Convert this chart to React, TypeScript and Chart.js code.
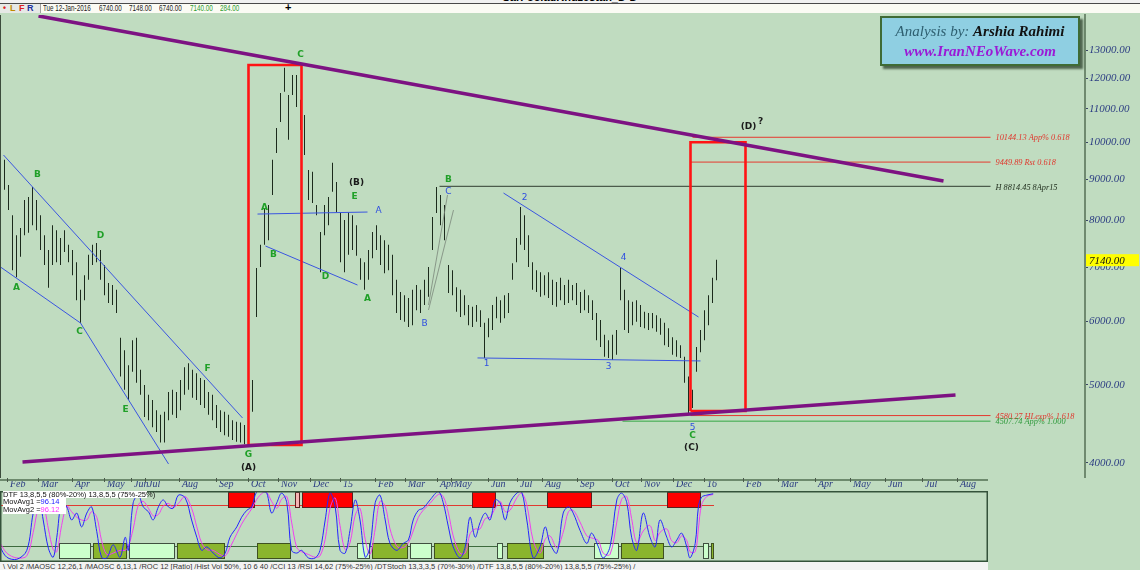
import React, { useEffect, useRef } from 'react';
import { Chart, registerables } from 'chart.js';

Chart.register(...registerables);

// ---------- price bars (one bar per slot, high / low) ----------
const barHigh = [
  9780, 9510, 8850, 8120, 7670, 7830, 8480, 8550, 8800, 8480,
  8120, 7670, 7350, 7890, 7780, 7610, 7780, 7460, 7350, 7100,
  6560, 6840, 7250, 7460, 7500, 7350, 7040, 6690, 6650, 6560,
  5720, 5520, 5290, 5680, 5720, 5220, 5000, 4860, 4790, 4650,
  4590, 4630, 4900, 4930, 4900, 5070, 5260, 5320, 5220, 5170,
  5100, 5070, 4900, 4860, 4720, 4650, 4630, 4590, 4520, 4500,
  4490, 4460, 4520, 5070, 6980, 7460, 8290, 8360, 9510, 10420,
  11510, 12370, 11450, 12120, 12120, 11290, 10810, 9240, 9190, 8360,
  7740, 8360, 8550, 9430, 8930, 8190, 8010, 8190, 8120, 7890,
  7180, 7100, 7350, 7740, 7890, 7670, 7560, 7460, 7250, 6750,
  6520, 6460, 6410, 6560, 6650, 6560, 6750, 7000, 8080, 8800,
  8600, 8360, 7040, 6940, 6610, 6560, 6460, 6280, 6250, 6280,
  6190, 5970, 6050, 6280, 6430, 6370, 6460, 6500, 7080, 7610,
  8310, 8120, 7670, 7100, 6940, 6900, 6840, 6900, 6750, 6710,
  6790, 6650, 6750, 6650, 6690, 6520, 6560, 6460, 6370, 6140,
  6020, 5770, 5680, 5770, 5850, 6980, 6560, 6370, 6340, 6370,
  6280, 6160, 6140, 6140, 6100, 6050, 5970, 5880, 5730, 5680,
  5600, 5420, 5120, 4930, 5570, 5850, 6190, 6460, 6790, 7148,
];
const barLow = [
  9110, 8730, 8240, 6940, 6800, 7210, 7670, 7720, 7890, 7780,
  7350, 7040, 6600, 7040, 7100, 7040, 7310, 7100, 6840, 6370,
  5970, 6370, 6750, 7040, 7100, 6750, 6460, 6320, 6280, 6140,
  5120, 4930, 4790, 5190, 5030, 4860, 4560, 4520, 4430, 4370,
  4240, 4240, 4520, 4590, 4550, 4650, 4860, 4930, 4820, 4790,
  4720, 4680, 4590, 4520, 4420, 4370, 4330, 4310, 4270, 4250,
  4240, 4220, 4270, 4630, 6070, 7000, 7460, 7560, 8600, 9700,
  10600, 11550, 10070, 11450, 11060, 10360, 9640, 8480, 8410, 8120,
  6900, 7670, 7890, 8680, 8190, 7100, 6900, 7250, 7350, 7230,
  6750, 6560, 6750, 7180, 7350, 7040, 6880, 6940, 6460, 6140,
  6020, 5990, 5900, 5930, 6190, 6140, 6280, 6430, 7350, 8170,
  7890, 7560, 6500, 6460, 6160, 6070, 6100, 5930, 5900, 5990,
  5900, 5400, 5730, 5850, 6050, 5970, 6050, 6140, 6750, 7100,
  7460, 7350, 7000, 6560, 6520, 6430, 6460, 6410, 6280, 6250,
  6370, 6280, 6320, 6370, 6280, 6140, 6190, 6140, 6020, 5680,
  5570, 5420, 5400, 5370, 5450, 6370, 5850, 5800, 5930, 5990,
  5900, 5880, 5850, 5880, 5820, 5770, 5600, 5570, 5450, 5420,
  5400, 5030, 4610, 4680, 5190, 5490, 5680, 5930, 6320, 6740,
];
const lastClose = 7140;

// ---------- axes ----------
const priceTicks = [4000, 5000, 6000, 7000, 8000, 9000, 10000, 11000, 12000, 13000];
const priceMin = 3832;
const priceMax = 14386;
const mainIdxMin = -0.125;
const mainIdxMax = 271.125;
const oscIdxMax = 247;
const monthTickIdx = [2.5, 10.25, 18.75, 26.75, 33.5, 37, 45.5, 54.75, 62.75, 70.25, 78.25, 85.75,
  94.5, 102, 110, 113.5, 122.75, 130, 136.25, 145, 153.75, 161, 169, 176.75,
  186.5, 195.25, 204.5, 213.25, 222, 231.25, 240];
const monthLabels = ['Feb', 'Mar', 'Apr', 'May', 'Jun', 'Jul', 'Aug', 'Sep', 'Oct', 'Nov', 'Dec', '15',
  'Feb', 'Mar', 'Apr', 'May', 'Jun', 'Jul', 'Aug', 'Sep', 'Oct', 'Nov', 'Dec', '16',
  'Feb', 'Mar', 'Apr', 'May', 'Jun', 'Jul', 'Aug'];

// ---------- drawing objects (time index, price) ----------
const upperTrendIdx = [9.5, 235.75];
const upperTrendPrice = [14347, 8953];
const lowerTrendIdx = [5.5, 238.75];
const lowerTrendPrice = [4011, 4858];

const boxStartIdx = [62, 172.5];
const boxEndIdx = [75.25, 186.25];
const boxLowPrice = [4211, 4641];
const boxHighPrice = [12471, 10000];

const levelValues = [10144.13, 9449.89, 8814.45, 4580.27, 4507.74];
const levelStartIdx = [173, 172.5, 109.75, 172.5, 155.5];
const levelEndIdx = 247.5;
const levelTexts = ['10144.13 App% 0.618', '9449.89 Rst 0.618', 'H 8814.45 8Apr15', '4580.27 HLexp% 1.618', '4507.74 App% 1.000'];
const levelKinds = ['red', 'red', 'gray', 'red', 'green'];

const blueLineIdx = [[0.75, 60.5], [0, 20, 42], [66.25, 89.25], [64.25, 91.75], [119.25, 175], [125.75, 174.5]];
const blueLinePrice = [[9643, 4549], [7002, 5967, 3989], [7435, 6651], [8146, 8193], [5400, 5354], [8650, 6070]];
const grayLineIdx = [[107, 111.75], [107, 113.25]];
const grayLinePrice = [[6282, 8601], [6193, 8240]];

const waveText = ['A', 'B', 'C', 'D', 'E', 'F', 'G', 'A', 'B', 'C', 'D', 'E', 'A', 'B', 'C',
  'A', 'B', 'C', '1', '2', '3', '4', '5', '(A)', '(B)', '(C)', '(D)', '?'];
const waveIdx = [4, 9.25, 19.75, 25, 31.25, 51.75, 62, 66, 68.25, 75, 81.25, 88.5, 91.75, 112, 173,
  94.5, 106, 112, 121.5, 131, 152, 155.75, 173, 62, 89, 172.75, 187, 190];
const wavePrice = [6595, 9107, 5816, 7650, 4654, 5233, 4092, 8288, 7246, 12833, 6803, 8552, 6390, 9000, 4321,
  8217, 5950, 8675, 5308, 8527, 5263, 7184, 4421, 3944, 8902, 4174, 10447, 10597];
const waveKind = ['g', 'g', 'g', 'g', 'g', 'g', 'g', 'g', 'g', 'g', 'g', 'g', 'g', 'g', 'g',
  'b', 'b', 'b', 'b', 'b', 'b', 'b', 'b', 'k', 'k', 'k', 'k', 'k'];

// ---------- DTF oscillator ----------
const oscIdx = [0, 1.7, 4.2, 6.7, 8.3, 9.6, 10.8, 12.1, 13.3, 14.2, 15.4, 16.7, 17.9, 19.2, 20.4, 21.7, 22.9, 24.2, 25.4, 26.7,
  28.3, 30, 31.3, 32.1, 33.3, 34.6, 35.8, 37.1, 38.3, 39.6, 40.8, 42.1, 43.3, 44.6, 46.3, 47.9, 49.2, 50.4, 51.7, 53.3,
  55, 56.3, 57.5, 59.2, 60.4, 61.7, 62.9, 64.2, 65.8, 66.7, 67.9, 69.2, 70.4, 71.7, 72.9, 74.2, 75.4, 77.1, 78.8, 80,
  81.3, 82.5, 83.8, 85, 86.3, 87.5, 88.8, 90, 91.3, 92.5, 93.8, 95,
  96.3, 97.5, 99.2, 100.8, 102.1, 103.3, 104.6, 105.8, 107.5, 109.6, 110.8, 112.1, 113.3, 115, 116.3,
  117.5, 118.8, 120, 121.3, 122.5, 123.8, 125, 126.3, 127.5, 129.2, 130.4, 131.7, 133.3, 135, 136.3,
  137.5, 139.2, 140.8, 142.1, 143.3, 145, 146.7, 147.9, 149.6, 150.8, 152.5, 154.2, 155.4, 156.7, 157.9,
  159.2, 160.8, 162.5, 163.8, 165, 166.7, 167.9, 169.2, 170.4, 171.7, 172.5, 173.8, 174.6, 175.4, 176.7, 178.3];
const oscBlue = [19, 4, 1, 14, 68, 94, 58, 17, 4, 33, 83, 77, 58, 68, 48, 68, 77, 41, 4, 3,
  22, 4, 33, 14, 83, 94, 77, 70, 58, 77, 87, 77, 75, 94, 90, 58, 33, 14, 19, 10,
  3, 10, 33, 48, 62, 72, 77, 99, 99, 97, 68, 83, 97, 83, 14, 10, 14, 3, 3, 14,
  58, 97, 77, 14, 10, 43, 87, 58, 4, 19, 83, 94,
  58, 24, 14, 24, 29, 58, 72, 75, 87, 99, 83, 48, 19, 3, 19,
  62, 33, 54, 68, 58, 87, 83, 58, 83, 97, 99, 58, 3, 19, 48,
  24, 10, 68, 77, 68, 43, 24, 39, 19, 3, 19, 87, 97, 83, 33,
  14, 68, 33, 19, 58, 33, 19, 29, 39, 19, 3, 24, 77, 91, 94, 96];
const oscMagenta = [25, 10, 3, 6, 40, 75, 80, 45, 15, 12, 50, 78, 70, 62, 58, 58, 70, 62, 28, 8,
  10, 14, 14, 20, 45, 80, 85, 75, 64, 66, 78, 82, 76, 82, 92, 75, 48, 25, 15, 14,
  8, 6, 18, 38, 52, 64, 74, 88, 98, 98, 85, 75, 88, 92, 55, 18, 12, 8, 4, 6,
  30, 75, 90, 50, 15, 25, 65, 75, 30, 8, 45, 85,
  78, 45, 20, 18, 25, 42, 62, 72, 82, 95, 92, 68, 35, 10, 10,
  38, 45, 45, 60, 62, 75, 85, 70, 72, 90, 97, 80, 28, 10, 30,
  35, 18, 40, 70, 72, 55, 35, 32, 28, 10, 8, 55, 88, 92, 60,
  25, 42, 50, 28, 40, 45, 28, 25, 35, 28, 12, 12, 45, 80, 92, 95];
const oscUpperLevel = 80;
const oscLowerLevel = 20;
const oscLevelEndIdx = 178.5;
const obBoxStart = [57, 73.75, 75.5, 118, 136.75, 166.75];
const obBoxEnd = [63.75, 75, 88.25, 124, 148, 175.25];
const obBoxPale = [false, true, false, false, false, false];
const osLightStart = [14.75, 32.25, 89.25, 102.5, 124.25, 148.5, 175.75];
const osLightEnd = [22.75, 43.75, 92.5, 108, 125.75, 154.75, 177.25];
const osDarkStart = [23.25, 44.25, 64.25, 93, 108.5, 126.75, 155.25, 177.75];
const osDarkEnd = [31.75, 56.25, 72.75, 102, 117.25, 136, 166, 178.5];
const obBand = [75, 98];
const osBand = [1, 25];

const serif = '"Liberation Serif", "DejaVu Serif", serif';
const sans = '"Liberation Sans", "DejaVu Sans", sans-serif';

const pts = (xs: number[], ys: number[]) => xs.map((x, k) => ({ x, y: ys[k] }));

const levelStyle: any = {
  red: { color: '#e5392e', width: 1, text: '#e0362c' },
  gray: { color: '#4c5c4c', width: 1.3, text: '#22301f' },
  green: { color: '#35a845', width: 1, text: '#2f9a3c' },
};
const waveStyle: any = {
  g: { color: '#20a028', font: `bold 9px "DejaVu Sans", sans-serif` },
  b: { color: '#2f4fe0', font: `9px "DejaVu Sans", sans-serif` },
  k: { color: '#1a1a1a', font: `bold 9px "DejaVu Sans", sans-serif` },
};

const mainDecor = {
  id: 'mainDecor',
  afterDraw(chart: any) {
    const { ctx, scales } = chart;
    const x = scales.x;
    const y = scales.y;
    ctx.save();
    // level captions
    ctx.font = `italic 8.3px ${serif}`;
    ctx.textAlign = 'left';
    ctx.textBaseline = 'middle';
    levelValues.forEach((v, k) => {
      ctx.fillStyle = levelStyle[levelKinds[k]].text;
      ctx.fillText(levelTexts[k], x.getPixelForValue(levelEndIdx) + 5, y.getPixelForValue(v) + 1);
    });
    // wave labels
    ctx.textAlign = 'center';
    waveText.forEach((t, k) => {
      const st = waveStyle[waveKind[k]];
      ctx.font = st.font;
      ctx.fillStyle = st.color;
      ctx.fillText(t, x.getPixelForValue(waveIdx[k]), y.getPixelForValue(wavePrice[k]));
    });
    // last price tag
    const py = y.getPixelForValue(lastClose);
    ctx.fillStyle = '#ffff00';
    ctx.fillRect(chart.chartArea.right + 1, py - 6, 53, 12);
    ctx.fillStyle = '#111';
    ctx.font = `italic 11px ${serif}`;
    ctx.textAlign = 'left';
    ctx.fillText(lastClose.toFixed(2), chart.chartArea.right + 4, py + 0.5);
    // left border
    ctx.fillStyle = '#3c4c3c';
    ctx.fillRect(0, chart.chartArea.top, 1, chart.chartArea.bottom - chart.chartArea.top);
    ctx.restore();
  },
};

const oscDecor = {
  id: 'oscDecor',
  beforeDatasetsDraw(chart: any) {
    const { ctx, scales } = chart;
    const x = scales.x;
    const y = scales.y;
    ctx.save();
    const x0 = x.getPixelForValue(0);
    const x1 = x.getPixelForValue(oscLevelEndIdx);
    ctx.lineWidth = 1;
    ctx.strokeStyle = '#e03a30';
    let yy = Math.round(y.getPixelForValue(oscUpperLevel)) + 0.5;
    ctx.beginPath(); ctx.moveTo(x0, yy); ctx.lineTo(x1, yy); ctx.stroke();
    ctx.strokeStyle = '#3d6a3d';
    yy = Math.round(y.getPixelForValue(oscLowerLevel)) + 0.5;
    ctx.beginPath(); ctx.moveTo(x0, yy); ctx.lineTo(x1, yy); ctx.stroke();
    const box = (s: number, e: number, band: number[], fill: string, stroke: string) => {
      const a = Math.round(x.getPixelForValue(s));
      const b = Math.round(x.getPixelForValue(e));
      const top = Math.round(y.getPixelForValue(band[1]));
      const bot = Math.round(y.getPixelForValue(band[0]));
      ctx.fillStyle = fill;
      ctx.fillRect(a, top, b - a, bot - top);
      ctx.strokeStyle = stroke;
      ctx.lineWidth = 1;
      ctx.strokeRect(a + 0.5, top + 0.5, b - a - 1, bot - top - 1);
    };
    obBoxStart.forEach((s, k) => box(s, obBoxEnd[k], obBand, obBoxPale[k] ? '#f7b4b4' : '#ff0000', '#5a2020'));
    osLightStart.forEach((s, k) => box(s, osLightEnd[k], osBand, '#ccffcc', '#3f4f3f'));
    osDarkStart.forEach((s, k) => box(s, osDarkEnd[k], osBand, '#8ab52d', '#3f5020'));
    ctx.restore();
  },
  afterDraw(chart: any) {
    const { ctx, chartArea, scales } = chart;
    const x = scales.x;
    ctx.save();
    ctx.strokeStyle = '#6d8a6d';
    ctx.lineWidth = 2;
    ctx.beginPath(); ctx.moveTo(0, 2); ctx.lineTo(chartArea.right, 2); ctx.stroke();
    ctx.lineWidth = 1;
    ctx.strokeStyle = '#4a5a4a';
    monthTickIdx.forEach((v) => {
      const px = Math.round(x.getPixelForValue(v)) - 2.5;
      ctx.beginPath(); ctx.moveTo(px, 0); ctx.lineTo(px, 4); ctx.stroke();
    });
    ctx.strokeStyle = '#34523a';
    ctx.lineWidth = 1.5;
    ctx.strokeRect(chartArea.left + 0.75, chartArea.top + 0.75, chartArea.right - chartArea.left - 1.5, chartArea.bottom - chartArea.top + 0.5);
    ctx.restore();
  },
};

export default function App() {
  const mainRef = useRef<HTMLCanvasElement>(null);
  const oscRef = useRef<HTMLCanvasElement>(null);

  useEffect(() => {
    document.body.style.margin = '0';
    const datasets: any[] = [];
    datasets.push({
      type: 'line', data: pts(upperTrendIdx, upperTrendPrice), borderColor: '#7d1282', borderWidth: 3.5,
      pointRadius: 0, order: 0,
    });
    datasets.push({
      type: 'line', data: pts(lowerTrendIdx, lowerTrendPrice), borderColor: '#7d1282', borderWidth: 3.5,
      pointRadius: 0, order: 0,
    });
    boxStartIdx.forEach((s, k) => {
      const e = boxEndIdx[k];
      const lo = boxLowPrice[k];
      const hi = boxHighPrice[k];
      datasets.push({
        type: 'line',
        data: [{ x: s, y: lo }, { x: s, y: hi }, { x: e, y: hi }, { x: e, y: lo }, { x: s, y: lo }],
        borderColor: '#ff1414', borderWidth: 2.6, borderJoinStyle: 'miter', pointRadius: 0, order: 1,
      });
    });
    levelValues.forEach((v, k) => {
      const st = levelStyle[levelKinds[k]];
      datasets.push({
        type: 'line', data: [{ x: levelStartIdx[k], y: v }, { x: levelEndIdx, y: v }],
        borderColor: st.color, borderWidth: st.width, pointRadius: 0, order: 2,
      });
    });
    blueLineIdx.forEach((xs, k) => {
      datasets.push({
        type: 'line', data: pts(xs, blueLinePrice[k]), borderColor: '#3a55e0', borderWidth: 1,
        pointRadius: 0, order: 3,
      });
    });
    grayLineIdx.forEach((xs, k) => {
      datasets.push({
        type: 'line', data: pts(xs, grayLinePrice[k]), borderColor: '#7a867a', borderWidth: 0.8,
        pointRadius: 0, order: 3,
      });
    });
    datasets.push({
      type: 'bar',
      data: barHigh.map((h, i) => ({ x: i, y: [barLow[i], h] })),
      backgroundColor: '#1c2a1c', borderWidth: 0, barThickness: 1, inflateAmount: 0, grouped: false, order: 10,
    });

    const main = new Chart(mainRef.current as HTMLCanvasElement, {
      type: 'bar',
      data: { datasets },
      options: {
        animation: false,
        responsive: false,
        maintainAspectRatio: false,
        layout: { padding: { top: 15, left: 0, right: 0, bottom: 0 } },
        plugins: { legend: { display: false }, tooltip: { enabled: false } },
        scales: {
          x: { type: 'linear', min: mainIdxMin, max: mainIdxMax, display: false, offset: false },
          y: {
            type: 'logarithmic', position: 'right', min: priceMin, max: priceMax,
            afterBuildTicks: (s: any) => { s.ticks = priceTicks.map((v) => ({ value: v })); },
            afterFit: (s: any) => { s.width = 55; s.paddingTop = 0; s.paddingBottom = 0; },
            ticks: {
              autoSkip: false, padding: 1, color: '#2b3c82',
              font: { family: serif, style: 'italic', size: 11 },
              callback: (v: any) => Number(v).toFixed(2),
            },
            grid: { drawOnChartArea: false, tickLength: 3, color: '#3c4866' },
            border: { display: true, color: '#6f8a6f', width: 2 },
          },
        },
      } as any,
      plugins: [mainDecor],
    });

    const osc = new Chart(oscRef.current as HTMLCanvasElement, {
      type: 'line',
      data: {
        datasets: [
          {
            data: pts(oscIdx, oscBlue), borderColor: '#2424ff', borderWidth: 1, pointRadius: 0,
            tension: 0.35, order: 0,
          },
          {
            data: pts(oscIdx, oscMagenta), borderColor: '#f040f0', borderWidth: 1, pointRadius: 0,
            tension: 0.35, order: 1,
          },
        ],
      },
      options: {
        animation: false,
        responsive: false,
        maintainAspectRatio: false,
        layout: { padding: { top: 0, left: 0, right: 0, bottom: 2 } },
        plugins: { legend: { display: false }, tooltip: { enabled: false } },
        scales: {
          x: {
            type: 'linear', position: 'top', min: 0, max: oscIdxMax, offset: false,
            afterBuildTicks: (s: any) => { s.ticks = monthTickIdx.map((v) => ({ value: v })); },
            afterFit: (s: any) => { s.height = 13; s.paddingLeft = 0; s.paddingRight = 0; },
            ticks: {
              autoSkip: false, maxRotation: 0, minRotation: 0, align: 'start', padding: 1,
              color: '#2b3c82', font: { family: serif, style: 'italic', size: 10 },
              callback: (_v: any, i: number) => monthLabels[i],
            },
            grid: { display: false, drawTicks: false },
            border: { display: false },
          },
          y: { min: 0, max: 100, display: false },
        },
      } as any,
      plugins: [oscDecor],
    });

    return () => { main.destroy(); osc.destroy(); };
  }, []);

  const abs = (l: number, t: number, extra: any = {}) => ({ position: 'absolute', left: l, top: t, ...extra } as any);
  const tb = (l: number, extra: any = {}) => abs(l, 0, { transform: 'scaleX(0.74)', transformOrigin: 'left top', ...extra });

  return (
    <div style={{ position: 'fixed', left: 0, top: 0, width: 1140, height: 570, background: '#c0dcc0', overflow: 'hidden' }}>
      <canvas ref={mainRef} width={1140} height={478} style={abs(0, 0)} />
      <canvas ref={oscRef} width={988} height={84} style={abs(0, 478)} />

      {/* title + toolbar */}
      <div style={abs(0, 0, { width: 1140, height: 3, background: '#f1f1f1', overflow: 'hidden' })}>
        <div style={abs(0, -9, { width: 1140, textAlign: 'center', font: `bold 11px ${sans}`, color: '#000' })}>SarFooladKhuzestan_D-D</div>
      </div>
      <div style={abs(0, 3, { width: 1140, height: 1, background: '#4a4a4a' })} />
      <div style={abs(0, 4, { width: 1140, height: 9, background: '#e6e9e6', font: `8.5px ${sans}`, lineHeight: '9px', whiteSpace: 'nowrap', color: '#222' })}>
        <div style={abs(40, 0, { width: 1100, height: 9, background: '#fbfbf4', borderLeft: '1px solid #a0a0a0' })} />
        <span style={abs(3, 0, { color: '#e02020', fontWeight: 'bold' })}>•</span>
        <span style={abs(10, 0, { color: '#c08a00', fontWeight: 'bold', fontSize: 9 })}>L</span>
        <span style={abs(19, 0, { color: '#dd2020', fontWeight: 'bold', fontSize: 9 })}>F</span>
        <span style={abs(27, 0, { color: '#2030a0', fontWeight: 'bold', fontSize: 9 })}>R</span>
        <span style={tb(43)}>Tue 12-Jan-2016</span>
        <span style={tb(99)}>6740.00</span>
        <span style={tb(129)}>7148.00</span>
        <span style={tb(159)}>6740.00</span>
        <span style={tb(190, { color: '#2e9e2e' })}>7140.00</span>
        <span style={tb(220, { color: '#2e9e2e' })}>284.00</span>
        <span style={abs(285, -1, { fontWeight: 'bold', fontSize: 11, color: '#000' })}>+</span>
      </div>

      {/* analyst box */}
      <div style={abs(880, 16, {
        width: 196, height: 46, background: '#8fcfe2', border: '2px solid #3f6b35',
        boxShadow: '3px 3px 2px rgba(40,60,40,0.75)', textAlign: 'center', fontFamily: serif, fontStyle: 'italic',
      })}>
        <div style={{ fontSize: 15, lineHeight: '20px', marginTop: 3, whiteSpace: 'nowrap' }}>
          <span style={{ color: '#2e5f70' }}>Analysis by: </span>
          <span style={{ color: '#111', fontWeight: 'bold' }}>Arshia Rahimi</span>
        </div>
        <div style={{ fontSize: 15, lineHeight: '20px', color: '#9b19d6', fontWeight: 'bold', whiteSpace: 'nowrap' }}>www.IranNEoWave.com</div>
      </div>

      {/* oscillator header */}
      <div style={abs(3, 491, { width: 144, height: 7, background: '#fff', font: `7.5px ${sans}`, lineHeight: '7px', whiteSpace: 'nowrap', color: '#111' })}>
        DTF 13,8,5,5 (80%-20%) 13,8,5,5 (75%-25%)
      </div>
      <div style={abs(3, 498, { width: 63, height: 16, background: '#fff', font: `7.5px ${sans}`, lineHeight: '8px', whiteSpace: 'nowrap', color: '#111' })}>
        <div>MovAvg1 =<span style={{ color: '#2020ff' }}>96.14</span></div>
        <div>MovAvg2 =<span style={{ color: '#ff30ff' }}>96.12</span></div>
      </div>

      {/* indicator tabs */}
      <div style={abs(0, 562, {
        width: 988, height: 8, background: '#f3f3f3', overflow: 'hidden', font: `7.5px ${sans}`,
        lineHeight: '10px', whiteSpace: 'nowrap', paddingLeft: 3, boxSizing: 'border-box', color: '#333',
      })}>
        \ Vol 2 /MAOSC 12,26,1 /MAOSC 6,13,1 /ROC 12 [Ratio] /Hist Vol 50%, 10 6 40 /CCI 13 /RSI 14,62 (75%-25%) /DTStoch 13,3,3,5 (70%-30%) /DTF 13,8,5,5 (80%-20%) 13,8,5,5 (75%-25%) /
      </div>
    </div>
  );
}
